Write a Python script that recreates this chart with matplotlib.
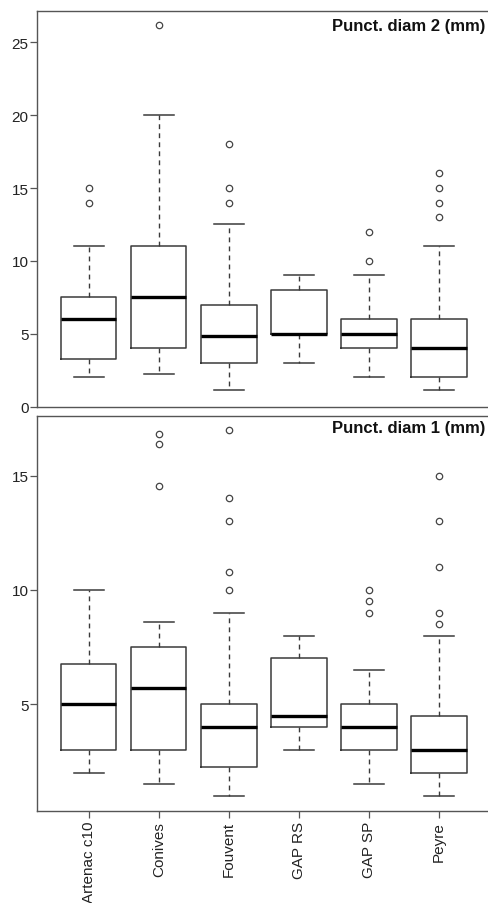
import matplotlib.pyplot as plt

plt.rcParams['font.family'] = ['Liberation Sans', 'DejaVu Sans']

sites = ['Artenac c10', 'Conives', 'Fouvent', 'GAP RS', 'GAP SP', 'Peyre']

# Punct. diam 2 (mm)
d2_q1 = [3.25, 4, 3, 5, 4, 2]
d2_med = [6, 7.5, 4.85, 5, 5, 4]
d2_q3 = [7.5, 11, 7, 8, 6, 6]
d2_lo = [2, 2.25, 1.1, 3, 2, 1.1]
d2_hi = [11, 20, 12.5, 9, 9, 11]
d2_out = [[14, 15], [26.2], [14, 15, 18], [], [10, 12], [13, 14, 15, 16]]

# Punct. diam 1 (mm)
d1_q1 = [3, 3, 2.25, 4, 3, 2]
d1_med = [5, 5.7, 4, 4.5, 4, 3]
d1_q3 = [6.75, 7.5, 5, 7, 5, 4.5]
d1_lo = [2, 1.5, 1, 3, 1.5, 1]
d1_hi = [10, 8.6, 9, 8, 6.5, 8]
d1_out = [[], [14.55, 16.4, 16.8], [10, 10.8, 13, 14, 17], [], [9, 9.5, 10], [8.5, 9, 11, 13, 15]]

fig = plt.figure(figsize=(4.88, 9.04), dpi=100)
ax_top = fig.add_axes([0.0758, 0.5492, 0.927, 0.4375])
ax_bot = fig.add_axes([0.0758, 0.1018, 0.927, 0.4373])

edge = '#3a3a3a'


def draw(ax, q1, med, q3, lo, hi, out, title, ty):
    stats = []
    for i in range(len(sites)):
        stats.append({'q1': q1[i], 'med': med[i], 'q3': q3[i],
                      'whislo': lo[i], 'whishi': hi[i], 'fliers': out[i]})
    ax.bxp(stats, positions=range(1, len(sites) + 1), widths=0.79,
           capwidths=0.42, patch_artist=False,
           boxprops=dict(color=edge, linewidth=1.1),
           whiskerprops=dict(color=edge, linewidth=1.0, linestyle=(0, (3.5, 3))),
           capprops=dict(color=edge, linewidth=1.1),
           medianprops=dict(color='black', linewidth=2.4, solid_capstyle='butt'),
           flierprops=dict(marker='o', markersize=4.6, markerfacecolor='none',
                           markeredgecolor='#444444', markeredgewidth=0.9))
    ax.set_xlim(0.26, 6.72)
    for s in ax.spines.values():
        s.set_color('#555555')
        s.set_linewidth(1.0)
    ax.tick_params(axis='y', direction='out', length=5, width=0.9,
                   colors='#555555', labelcolor='#222222', labelsize=11, pad=1)
    ax.text(0.991, ty, title, transform=ax.transAxes, ha='right', va='baseline',
            fontsize=12, fontweight='bold', color='#111111')


draw(ax_top, d2_q1, d2_med, d2_q3, d2_lo, d2_hi, d2_out, 'Punct. diam 2 (mm)', 0.953)
ax_top.set_ylim(0, 27.15)
ax_top.set_yticks([0, 5, 10, 15, 20, 25])
ax_top.set_xticks([])

draw(ax_bot, d1_q1, d1_med, d1_q3, d1_lo, d1_hi, d1_out, 'Punct. diam 1 (mm)', 0.959)
ax_bot.set_ylim(0.33, 17.62)
ax_bot.set_yticks([5, 10, 15])
ax_bot.set_xticks(range(1, len(sites) + 1))
ax_bot.set_xticklabels(sites, rotation=90)
ax_bot.tick_params(axis='x', direction='out', length=5, width=0.9,
                   colors='#555555', labelcolor='#222222', labelsize=11, pad=2)

fig.savefig('out.png', dpi=100)
